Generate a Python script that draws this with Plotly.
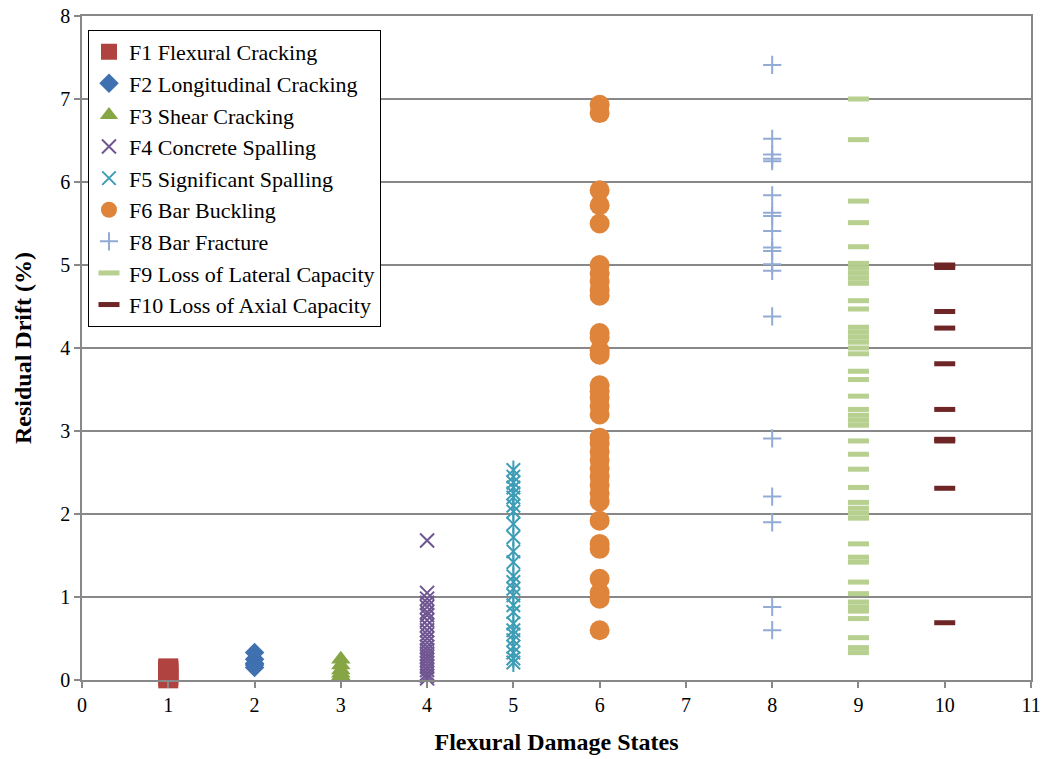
import plotly.graph_objects as go

# ---- data ----
F1_y = [0.02, 0.05, 0.08, 0.10, 0.12, 0.14]
F2_y = [0.33, 0.25, 0.20, 0.18, 0.15]
F3_y = [0.25, 0.18, 0.12, 0.08, 0.05]
F4_y = [1.68, 1.05, 0.98, 0.93, 0.88, 0.82, 0.78, 0.72, 0.66, 0.60, 0.55, 0.50,
        0.45, 0.40, 0.36, 0.32, 0.28, 0.24, 0.20, 0.16, 0.12, 0.08, 0.05, 0.02]
F5_y = [2.53, 2.45, 2.38, 2.32, 2.25, 2.20, 2.10, 2.03, 1.88, 1.72, 1.55, 1.42,
        1.25, 1.18, 1.10, 1.02, 0.90, 0.82, 0.68, 0.60, 0.55, 0.48, 0.40, 0.33,
        0.26, 0.21]
F6_y = [6.93, 6.83, 5.90, 5.72, 5.50, 5.00, 4.90, 4.80, 4.70, 4.63, 4.18, 4.13,
        3.97, 3.92, 3.55, 3.48, 3.40, 3.30, 3.20, 2.92, 2.85, 2.75, 2.65, 2.55,
        2.45, 2.35, 2.25, 2.15, 1.92, 1.64, 1.58, 1.22, 1.05, 0.98, 0.60]
F8_y = [7.41, 6.52, 6.33, 6.28, 6.25, 5.84, 5.63, 5.59, 5.41, 5.21, 5.17, 5.01,
        4.93, 4.38, 2.91, 2.21, 1.90, 0.88, 0.60]
F9_y = [7.00, 6.51, 5.77, 5.51, 5.22, 5.02, 4.96, 4.90, 4.84, 4.78, 4.57, 4.47,
        4.25, 4.19, 4.13, 4.07, 4.00, 3.93, 3.72, 3.62, 3.42, 3.26, 3.19, 3.13,
        3.07, 2.88, 2.72, 2.54, 2.32, 2.14, 2.07, 2.01, 1.95, 1.64, 1.48, 1.42,
        1.18, 1.04, 0.94, 0.88, 0.83, 0.74, 0.51, 0.39, 0.33]
F10_y = [5.00, 4.97, 4.44, 4.24, 3.81, 3.26, 2.90, 2.88, 2.31, 0.69]

series = [
    ("F1 Flexural Cracking", 1, F1_y, "square", 20, "#B0423F", 0),
    ("F2 Longitudinal Cracking", 2, F2_y, "diamond", 15, "#3F70AF", 0),
    ("F3 Shear Cracking", 3, F3_y, "triangle-up", 17, "#86A544", 0),
    ("F4 Concrete Spalling", 4, F4_y, "x-thin-open", 14, "#6F5591", 2),
    ("F5 Significant Spalling", 5, F5_y, "x-thin-open", 13.5, "#3E9DB6", 2),
    ("F6 Bar Buckling", 6, F6_y, "circle", 20, "#DE843B", 0),
    ("F8 Bar Fracture", 8, F8_y, "cross-thin-open", 13, "#92ABD5", 2),
    ("F9 Loss of Lateral Capacity", 9, F9_y, "line-ew-open", 15, "#B7CF8F", 5),
    ("F10 Loss of Axial Capacity", 10, F10_y, "line-ew-open", 15, "#6E2526", 5),
]

fig = go.Figure()
for i, (name, xv, ys, sym, size, color, lw) in enumerate(series):
    if lw:
        marker = dict(symbol=sym, size=size, color=color, line=dict(color=color, width=lw))
    else:
        marker = dict(symbol=sym, size=size, color=color, line=dict(width=0))
    fig.add_trace(go.Scatter(
        x=[xv] * len(ys), y=ys, mode="markers", name=name, legendgroup=f"g{i}",
        marker=marker, cliponaxis=False,
    ))
    if name.startswith("F5"):
        # Excel-style star marker: X plus a vertical stroke
        fig.add_trace(go.Scatter(
            x=[xv] * len(ys), y=ys, mode="markers", name=name, legendgroup=f"g{i}",
            showlegend=False, cliponaxis=False,
            marker=dict(symbol="line-ns-open", size=size, color=color,
                        line=dict(color=color, width=lw)),
        ))

font_family = "Liberation Serif"
fig.update_layout(
    width=1045, height=759,
    margin=dict(l=82, r=14, t=16, b=79),
    paper_bgcolor="white", plot_bgcolor="white",
    font=dict(family=font_family, size=20, color="black"),
    showlegend=True,
    legend=dict(
        x=0.0063, y=0.979, xanchor="left", yanchor="top",
        bgcolor="white", bordercolor="black", borderwidth=1,
        font=dict(family=font_family, size=22, color="black"),
        tracegroupgap=0, itemwidth=30,
    ),
    xaxis=dict(
        range=[0, 11], tickmode="linear", tick0=0, dtick=1, automargin=False,
        showgrid=False, zeroline=False,
        showline=True, linecolor="#888888", linewidth=1.5, mirror=True,
        ticks="outside", ticklen=6, tickcolor="#888888", tickwidth=1.5,
        tickfont=dict(family=font_family, size=20),
        title=dict(text="<b>Flexural Damage States</b>",
                   font=dict(family=font_family, size=24), standoff=18),
    ),
    yaxis=dict(
        range=[0, 8], tickmode="linear", tick0=0, dtick=1, automargin=False,
        showgrid=True, gridcolor="#888888", gridwidth=1.5, zeroline=False,
        showline=True, linecolor="#888888", linewidth=1.5, mirror=True,
        ticks="outside", ticklen=6, tickcolor="#888888", tickwidth=1.5,
        tickfont=dict(family=font_family, size=20),
        title=dict(text="<b>Residual Drift (%)</b>",
                   font=dict(family=font_family, size=24), standoff=22),
    ),
)

fig.write_html("out.html", config={"displayModeBar": False},
               post_script="document.body.style.margin='0';")
